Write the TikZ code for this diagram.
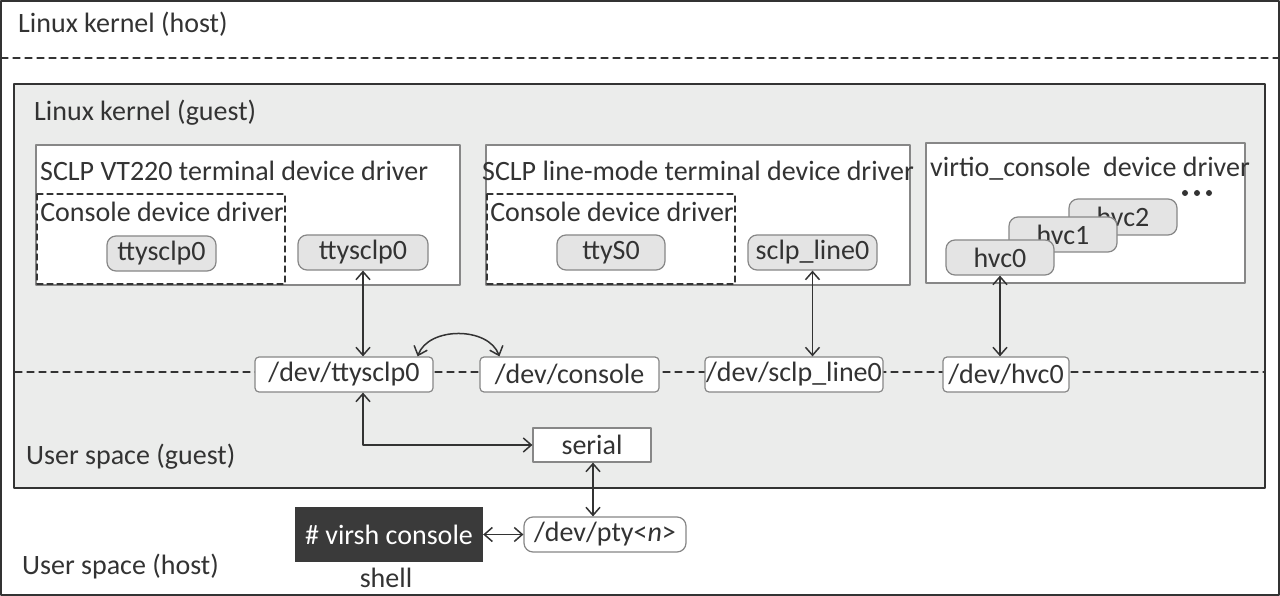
\documentclass[tikz,border=0pt]{standalone}
\usepackage{fontspec}
\setmainfont{Carlito}
\usetikzlibrary{arrows.meta}
\definecolor{ink}{RGB}{51,51,51}
\definecolor{guestgray}{RGB}{235,236,235}
\definecolor{ttygray}{RGB}{228,228,228}
\definecolor{edgegray}{RGB}{135,135,135}
\definecolor{shellfill}{RGB}{58,58,58}
\begin{document}
\begin{tikzpicture}[x=1pt,y=-1pt,line cap=round,line join=round,
  font=\fontsize{28}{32}\selectfont,text=ink,
  lbl/.style={inner sep=0pt},
  drvbox/.style={draw=edgegray,fill=white,line width=1.2pt},
  conbox/.style={draw=ink,fill=white,line width=1.3pt,dash pattern=on 6pt off 4pt},
  sepline/.style={draw=ink,line width=1.2pt,dash pattern=on 7pt off 5pt},
  ttybox/.style={draw=edgegray,fill=ttygray,rounded corners=9pt,line width=1.2pt,inner sep=0pt,minimum height=35pt},
  devbox/.style={draw=edgegray,fill=white,rounded corners=4pt,line width=1.2pt,inner sep=0pt,minimum height=35pt},
  biarrow/.style={draw=ink,line width=1.5pt,{Straight Barb[length=8pt,width=14pt]}-{Straight Barb[length=8pt,width=14pt]}}]
  \useasboundingbox (0,0) rectangle (1280,596);
  \fill[white] (0,0) rectangle (1280,596);
  \draw[draw=ink,line width=1.5pt] (1,1) rectangle (1279,595);
  \draw[sepline] (1,58) -- (1279,58);
  \node[lbl,anchor=west] (hostlbl) at (18,24) {Linux kernel (host)};
  \draw[draw=ink,fill=guestgray,line width=1.4pt] (14,84) rectangle (1265,488);
  \node[lbl,anchor=west] (guestlbl) at (34,113) {Linux kernel (guest)};
  \draw[drvbox] (36,145) rectangle (460,285);
  \node[lbl,anchor=west] (vtlbl) at (40,171) {SCLP VT220 terminal device driver};
  \draw[conbox] (37,194) rectangle (285,284);
  \node[lbl] (conlbla) at (162,212) {Console device driver};
  \node[ttybox,minimum width=109pt] (ttycon) at (161.5,253.5) {ttysclp0};
  \node[ttybox,minimum width=130pt] (ttyout) at (363,252.5) {ttysclp0};
  \draw[drvbox] (486,145) rectangle (910,285);
  \node[lbl] (linelbl) at (698,171) {SCLP line-mode terminal device driver};
  \draw[conbox] (487,194) rectangle (735,284);
  \node[lbl] (conlblb) at (612,212) {Console device driver};
  \node[ttybox,minimum width=108pt] (ttys) at (611,252.5) {ttyS0};
  \node[ttybox,minimum width=129pt] (sclpline) at (812.5,252.5) {sclp\_line0};
  \draw[drvbox] (926,143) rectangle (1245,283);
  \node[lbl,anchor=west] (virtlbl) at (930,169) {virtio\_console\ \ device driver};
  \foreach \x in {1185,1197,1209} \fill[ink] (\x,193) circle (3pt);
  \node[ttybox,minimum width=108pt,minimum height=36pt] (hvctwo) at (1123,217) {hvc2};
  \node[ttybox,minimum width=108pt] (hvcone) at (1063,234.5) {hvc1};
  \node[ttybox,minimum width=108pt] (hvczero) at (1000,257.5) {hvc0};
  \draw[sepline] (15,372) -- (1264,372);
  \node[devbox,minimum width=178pt] (devtty) at (344,374.5) {/dev/ttysclp0};
  \node[devbox,minimum width=179pt] (devcon) at (569.5,374.5) {/dev/console};
  \node[devbox,minimum width=178pt] (devsclp) at (794,374.5) {/dev/sclp\_line0};
  \node[devbox,minimum width=126pt] (devhvc) at (1006,374.5) {/dev/hvc0};
  \node[draw=edgegray,fill=white,line width=1.2pt,inner sep=0pt,minimum width=118pt,minimum height=34pt] (serial) at (592,445) {serial};
  \node[lbl,anchor=west] (uguestlbl) at (26,457) {User space (guest)};
  \node[fill=shellfill,text=white,inner sep=0pt,minimum width=188pt,minimum height=55pt] (virsh) at (389,534.5) {\# virsh console};
  \node[lbl] (shelllbl) at (386,578) {shell};
  \node[devbox,rounded corners=9pt,minimum width=162pt] (pty) at (605,534.5) {/dev/pty<\textit{n}>};
  \node[lbl,anchor=west] (uhostlbl) at (22,567) {User space (host)};
  \draw[biarrow] (ttyout.south) -- (ttyout.south |- devtty.north);
  \draw[biarrow] (sclpline.south) -- (sclpline.south |- devsclp.north);
  \draw[biarrow] (hvczero.south) -- (hvczero.south |- devhvc.north);
  \draw[biarrow] ([xshift=-16pt]devtty.north east) to[out=70,in=110] ([xshift=20pt]devcon.north west);
  \draw[biarrow] (ttyout.south |- devtty.south) |- (serial.west);
  \draw[biarrow] ([xshift=1pt]serial.south) -- ([xshift=1pt]serial.south |- pty.north);
  \draw[biarrow] (virsh.east) -- (pty.west);
\end{tikzpicture}
\end{document}
